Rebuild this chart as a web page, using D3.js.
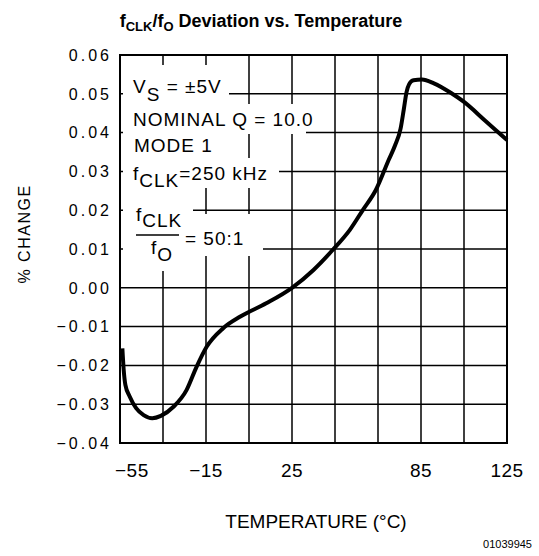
<!DOCTYPE html>
<html><head><meta charset="utf-8">
<script src="https://cdn.jsdelivr.net/npm/d3@7"></script>
<style>
body{margin:0;background:#fff;}
svg{display:block;}
</style></head>
<body>
<svg id="c" width="539" height="556"></svg>
<script>
// ---- data ----
const temperature = [-53.9,-53.3,-52.5,-50.5,-47.5,-44,-40,-36,-30,-24,-19.5,-14.7,-7,1,13,25,35,44,52,58,64,70,73,75.5,77,78.3,79.5,81.5,85.5,91,99,105,115,125];
const pctChange   = [-0.0156,-0.021,-0.0250,-0.0280,-0.0310,-0.0328,-0.0336,-0.0330,-0.0306,-0.0263,-0.0205,-0.0152,-0.0104,-0.0074,-0.0040,0.0000,0.0046,0.0098,0.0150,0.0201,0.0252,0.0330,0.0368,0.0410,0.0460,0.0505,0.0525,0.0535,0.0537,0.0527,0.0502,0.0479,0.0430,0.0381];
const xGrid = [-55,-35,-15,5,25,45,65,85,105,125];
const xTickLabels = [-55,-15,25,85,125];
const yTicks = [0.06,0.05,0.04,0.03,0.02,0.01,0.00,-0.01,-0.02,-0.03,-0.04];

const svg = d3.select("#c");
const FONT = "'Liberation Sans', Arial, sans-serif";
const x = d3.scaleLinear().domain([-55,125]).range([120,507]);
const y = d3.scaleLinear().domain([-0.04,0.06]).range([443,55]);

// grid
const g = svg.append("g");
g.selectAll("line.v").data(xGrid).enter().append("line")
  .attr("x1",d=>x(d)).attr("x2",d=>x(d)).attr("y1",y(0.06)).attr("y2",y(-0.04))
  .attr("stroke","#000").attr("stroke-width",1.5);
g.selectAll("line.h").data(yTicks).enter().append("line")
  .attr("x1",x(-55)).attr("x2",x(125)).attr("y1",d=>y(d)).attr("y2",d=>y(d))
  .attr("stroke","#000").attr("stroke-width",1.5);

// white areas behind the annotation block (hide the grid)
const masks = [
  [123, 65, 106, 39],   // V_S row
  [123, 104, 183, 30],  // NOMINAL row
  [123, 133, 90, 27],   // MODE 1 row
  [123, 158, 156, 30],  // f_CLK row
  [123, 187, 70, 84],   // fraction
  [190, 214, 73, 42]    // = 50:1
];
svg.append("g").selectAll("rect").data(masks).enter().append("rect")
  .attr("x",d=>d[0]).attr("y",d=>d[1]).attr("width",d=>d[2]).attr("height",d=>d[3]).attr("fill","#fff");

// annotation
const ann = svg.append("g").attr("font-family",FONT).attr("font-size",19).attr("letter-spacing","1px").attr("fill","#000");
function addLine(xp, yp, parts){
  const t = ann.append("text").attr("x",xp).attr("y",yp);
  parts.forEach(p=>{
    const ts = t.append("tspan").text(p.t);
    if(p.dy) ts.attr("dy",p.dy);
  });
  return t;
}
addLine(133,93,[{t:"V"},{t:"S",dy:8},{t:" = \u00B15V",dy:-8}]);
addLine(133,125.5,[{t:"NOMINAL Q = 10.0"}]);
addLine(134,151.5,[{t:"MODE  1"}]);
addLine(133,180,[{t:"f"},{t:"CLK",dy:7},{t:"=250 kHz",dy:-7}]);
addLine(136,221,[{t:"f"},{t:"CLK",dy:6}]);
addLine(151,254,[{t:"f"},{t:"O",dy:7}]);
addLine(185,245,[{t:"= 50:1"}]);
ann.append("line").attr("x1",136).attr("x2",179).attr("y1",235).attr("y2",235).attr("stroke","#000").attr("stroke-width",1.5);

// curve
const pts = temperature.map((t,i)=>[t,pctChange[i]]);
svg.append("path").datum(pts)
  .attr("d", d3.line().x(d=>x(d[0])).y(d=>y(d[1])).curve(d3.curveMonotoneX))
  .attr("fill","none").attr("stroke","#000").attr("stroke-width",4).attr("stroke-linejoin","round");

// frame
svg.append("rect").attr("x",x(-55)).attr("y",y(0.06)).attr("width",x(125)-x(-55)).attr("height",y(-0.04)-y(0.06))
  .attr("fill","none").attr("stroke","#000").attr("stroke-width",2);

// y tick labels
svg.append("g").selectAll("text").data(yTicks).enter().append("text")
  .attr("x",112).attr("y",d=>y(d)).attr("dy","0.36em")
  .attr("text-anchor","end").attr("font-family",FONT).attr("font-size",16).attr("letter-spacing","3px")
  .text(d=>(d<0?"\u2212":"")+Math.abs(d).toFixed(2));

// x tick labels
svg.append("g").selectAll("text").data(xTickLabels).enter().append("text")
  .attr("x",d=> d===-55 ? x(d)-5 : x(d)).attr("y",477)
  .attr("text-anchor",d=> d===-55 ? "start" : "middle")
  .attr("font-family",FONT).attr("font-size",19).attr("letter-spacing","0.5px")
  .text(d=>(d<0?"\u2212":"")+Math.abs(d));

// axis titles
svg.append("text").attr("transform","translate(30,234) rotate(-90)")
  .attr("text-anchor","middle").attr("font-family",FONT).attr("font-size",16).attr("letter-spacing","1.5px")
  .text("% CHANGE");
svg.append("text").attr("x",316).attr("y",528).attr("text-anchor","middle")
  .attr("font-family",FONT).attr("font-size",19)
  .text("TEMPERATURE (\u00B0C)");
svg.append("text").attr("x",532).attr("y",548).attr("text-anchor","end")
  .attr("font-family",FONT).attr("font-size",11).text("01039945");

// title
const title = svg.append("text").attr("x",261).attr("y",27).attr("text-anchor","middle")
  .attr("font-family",FONT).attr("font-size",18).attr("font-weight","bold");
title.append("tspan").text("f");
title.append("tspan").attr("font-size",13).attr("dy",4).text("CLK");
title.append("tspan").attr("dy",-4).text("/f");
title.append("tspan").attr("font-size",13).attr("dy",4).text("O");
title.append("tspan").attr("dy",-4).text(" Deviation vs. Temperature");
</script>
</body></html>
